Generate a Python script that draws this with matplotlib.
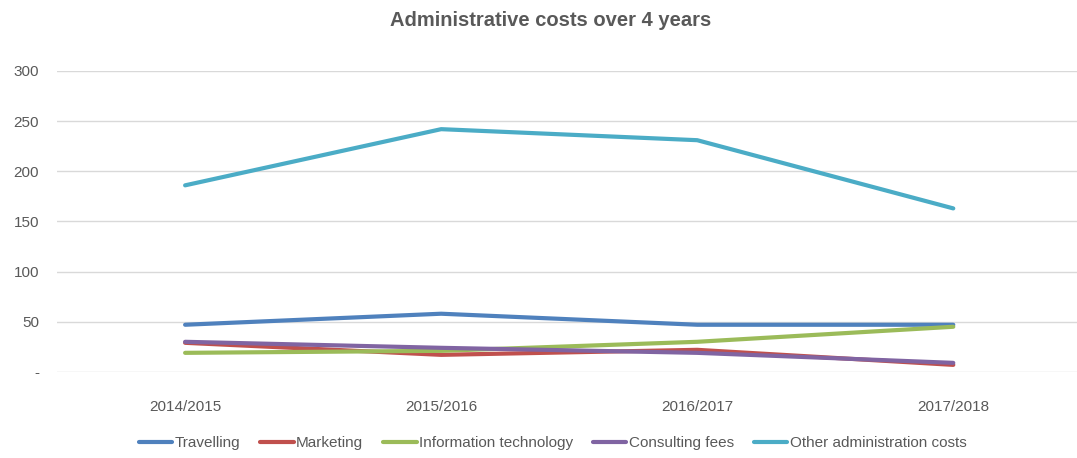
import matplotlib.pyplot as plt

plt.rcParams['font.family'] = ['Liberation Sans Narrow', 'Liberation Sans', 'DejaVu Sans']

years = ['2014/2015', '2015/2016', '2016/2017', '2017/2018']
travelling = [47, 58, 47, 47]
marketing = [29, 17, 22, 7]
info_tech = [19, 21, 30, 45]
consulting = [30, 24, 19, 9]
other_admin = [186, 242, 231, 163]

series = [
    ('Travelling', travelling, '#4F81BD'),
    ('Marketing', marketing, '#C0504D'),
    ('Information technology', info_tech, '#9BBB59'),
    ('Consulting fees', consulting, '#8064A2'),
    ('Other administration costs', other_admin, '#4BACC6'),
]

grey = '#595959'

fig = plt.figure(figsize=(10.77, 4.58), dpi=100)
ax = fig.add_axes([0.053, 0.188, 0.951, 0.657])

x = range(len(years))
for name, vals, col in series:
    ax.plot(x, vals, color=col, lw=3.0, label=name, solid_capstyle='round')

ax.set_xlim(-0.5, 3.5)
ax.set_ylim(0, 300)
ax.set_yticks([0, 50, 100, 150, 200, 250, 300])
ax.set_yticklabels(['-', '50', '100', '150', '200', '250', '300'])
ax.set_xticks(list(x))
ax.set_xticklabels(years)
ax.grid(axis='y', color='#D9D9D9', lw=1)
ax.set_axisbelow(True)
for s in ax.spines.values():
    s.set_visible(False)
ax.tick_params(axis='both', length=0, colors=grey, labelsize=11)
ax.tick_params(axis='y', pad=13)
ax.tick_params(axis='x', pad=20)

fig.suptitle('Administrative costs over 4 years', x=0.511, y=0.975,
             fontsize=14.5, fontweight='bold', color=grey)

fig.legend(loc='center', bbox_to_anchor=(0.513, 0.033), ncol=5, frameon=False,
           fontsize=11, labelcolor=grey, handlelength=2.2, handletextpad=0.15,
           columnspacing=1.3)

fig.savefig('out.png', dpi=100)
